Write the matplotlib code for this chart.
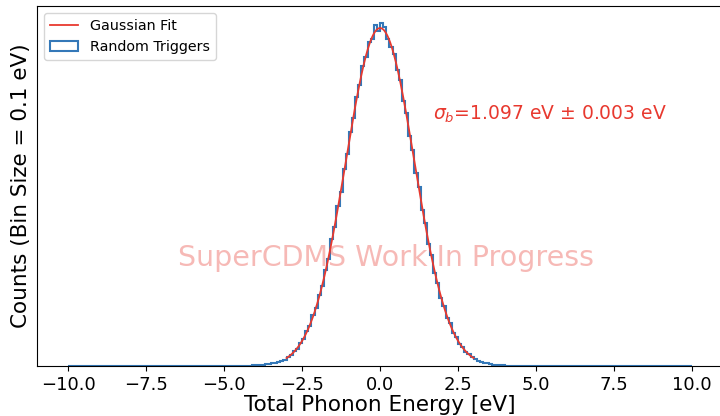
import numpy as np
import matplotlib
matplotlib.use('Agg')
import matplotlib.pyplot as plt

# histogram of random triggers, 0.1 eV bins, first bin starts at -4.5 eV
bin_width = 0.1
first_edge = -4.5
counts = [1, 0, 1, 1, 2, 2, 3, 3, 5, 6,
          8, 10, 11, 15, 19, 27, 33, 44, 52, 69,
          80, 104, 119, 151, 171, 210, 238, 284, 318, 375,
          412, 474, 516, 583, 626, 693, 735, 797, 833, 887,
          915, 958, 968, 1010, 990, 1015, 1004, 968, 944, 923,
          875, 845, 785, 748, 680, 640, 570, 529, 462, 424,
          362, 330, 274, 247, 201, 179, 143, 126, 98, 85,
          65, 56, 41, 35, 26, 22, 15, 13, 9, 8,
          5, 4, 3, 2, 2, 1, 1, 1, 1, 0,
          1, 1]

# gaussian fit parameters
fit_amp = 1000
fit_mu = 0.0
fit_sigma = 1.097
fit_sigma_err = 0.003
fit_range = (-3.0, 3.0)

hist_range = (-10, 10)

# put the counts into the full -10..10 binning
edges = np.round(np.arange(hist_range[0], hist_range[1] + bin_width / 2, bin_width), 3)
centers = (edges[:-1] + edges[1:]) / 2
full_counts = np.zeros(len(centers))
start = int(round((first_edge - hist_range[0]) / bin_width))
full_counts[start:start + len(counts)] = counts

x_fit = np.linspace(fit_range[0], fit_range[1], 400)
y_fit = fit_amp * np.exp(-(x_fit - fit_mu) ** 2 / (2 * fit_sigma ** 2))

red = '#e8392f'

fig = plt.figure(figsize=(7.2, 4.16), dpi=100)
ax = fig.add_axes([0.0514, 0.12, 0.953, 0.866])

_, _, patches = ax.hist(centers, bins=edges, weights=full_counts, histtype='step',
                        color='#3478b8', linewidth=1.5, label='Random Triggers')
fit_line, = ax.plot(x_fit, y_fit, color=red, linewidth=1.3, label='Gaussian Fit', zorder=3)

ax.text(0.577, 0.70, r'$\sigma_b$=%.3f eV $\pm$ %.3f eV' % (fit_sigma, fit_sigma_err),
        transform=ax.transAxes, color=red, fontsize=13.5, va='center', ha='left')
ax.text(0.509, 0.30, 'SuperCDMS Work In Progress', transform=ax.transAxes,
        color=red, alpha=0.35, fontsize=20.5, ha='center', va='center')

ax.set_xticks([-10, -7.5, -5, -2.5, 0, 2.5, 5, 7.5, 10])
ax.set_xticklabels(['−10.0', '−7.5', '−5.0', '−2.5', '0.0', '2.5', '5.0', '7.5', '10.0'])
ax.tick_params(axis='x', labelsize=13)
ax.set_yticks([])
ax.set_xlabel('Total Phonon Energy [eV]', fontsize=15.5, labelpad=1)
ax.set_ylabel('Counts (Bin Size = 0.1 eV)', fontsize=15.5)
ax.legend(handles=[fit_line, patches[0]], loc='upper left', fontsize=10.3)

fig.savefig('out.png', dpi=100)
